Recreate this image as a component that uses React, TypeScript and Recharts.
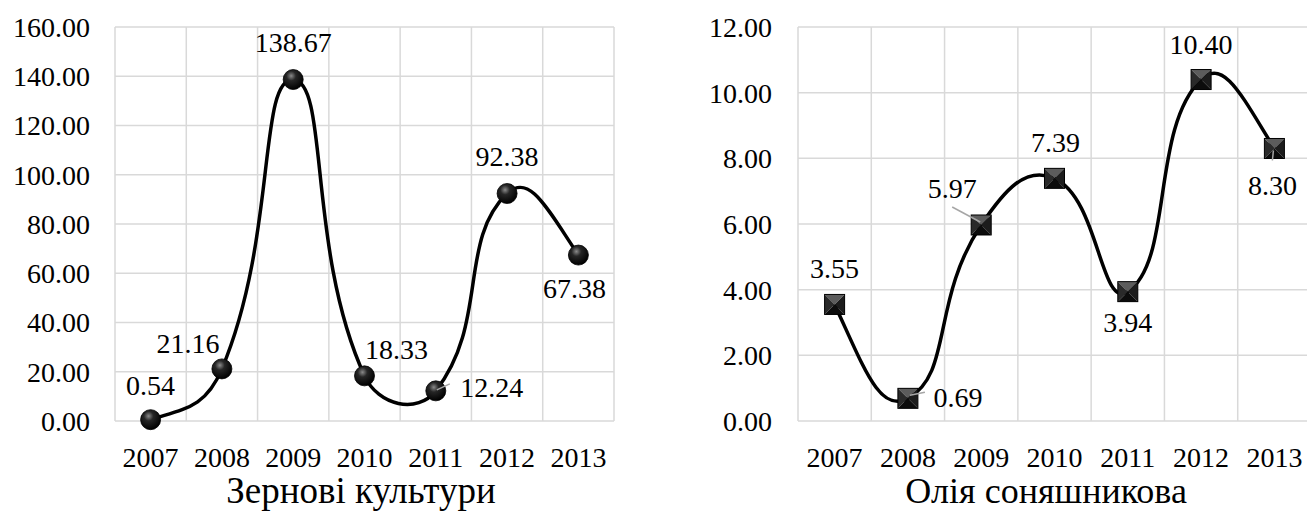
import React from 'react';
import { LineChart, Line, XAxis, YAxis, CartesianGrid, LabelList } from 'recharts';

const years = ['2007', '2008', '2009', '2010', '2011', '2012', '2013'];
const grainValues = [0.54, 21.16, 138.67, 18.33, 12.24, 92.38, 67.38];
const oilValues = [3.55, 0.69, 5.97, 7.39, 3.94, 10.4, 8.3];
const grainTicks = [0, 20, 40, 60, 80, 100, 120, 140, 160];
const oilTicks = [0, 2, 4, 6, 8, 10, 12];
const grainTitle = 'Зернові культури';
const oilTitle = 'Олія соняшникова';

// label offsets from the marker (dx, dy), and optional leader lines
const grainLabelPos = [[0, -34], [-34, -26], [0, -37], [32, -27], [56, -4], [0, -37], [-4, 33]];
const grainLeaders: Record<number, number[]> = { 4: [1, -1, 14, -7] };
const oilLabelPos = [[0, -36], [50, -1], [-29, -37], [1, -36], [0, 31], [0, -35], [-2, 37]];
const oilLeaders: Record<number, number[]> = {
  1: [2, -3, 17, -6],
  2: [-29, -18, -1, -3],
  6: [-1, 2, -2, 12],
};

const FONT = '"Liberation Serif", "Times New Roman", "DejaVu Serif", serif';
const GRID = '#d9d9d9';

const grainData = years.map((year, i) => ({ year, value: grainValues[i] }));
const oilData = years.map((year, i) => ({ year, value: oilValues[i] }));

// Excel-like smoothed line: bezier with chord-weighted tangents
const SMOOTH = 0.5;
function excelSmooth(context: any) {
  let pts: number[][] = [];
  return {
    areaStart() {},
    areaEnd() {},
    lineStart() {
      pts = [];
    },
    point(x: number, y: number) {
      pts.push([+x, +y]);
    },
    lineEnd() {
      const n = pts.length;
      if (!n) return;
      context.moveTo(pts[0][0], pts[0][1]);
      if (n === 1) return;
      if (n === 2) {
        context.lineTo(pts[1][0], pts[1][1]);
        return;
      }
      const dist = (a: number[], b: number[]) => Math.hypot(b[0] - a[0], b[1] - a[1]);
      const before: number[][] = [];
      const after: number[][] = [];
      for (let i = 1; i < n - 1; i++) {
        const p0 = pts[i - 1];
        const p1 = pts[i];
        const p2 = pts[i + 1];
        const d0 = dist(p0, p1);
        const d1 = dist(p1, p2);
        const sum = d0 + d1 || 1;
        const tx = p2[0] - p0[0];
        const ty = p2[1] - p0[1];
        before[i] = [p1[0] - (tx * SMOOTH * d0) / sum, p1[1] - (ty * SMOOTH * d0) / sum];
        after[i] = [p1[0] + (tx * SMOOTH * d1) / sum, p1[1] + (ty * SMOOTH * d1) / sum];
      }
      const a0 = pts[0];
      const a1 = pts[1];
      after[0] = [
        a0[0] + (before[1][0] - a0[0]) * 0.5 + (a1[0] - a0[0]) * 0.1,
        a0[1] + (before[1][1] - a0[1]) * 0.5 + (a1[1] - a0[1]) * 0.1,
      ];
      const z = pts[n - 1];
      const z1 = pts[n - 2];
      before[n - 1] = [
        z[0] + (after[n - 2][0] - z[0]) * 0.5 + (z1[0] - z[0]) * 0.1,
        z[1] + (after[n - 2][1] - z[1]) * 0.5 + (z1[1] - z[1]) * 0.1,
      ];
      for (let i = 0; i < n - 1; i++) {
        context.bezierCurveTo(
          after[i][0], after[i][1],
          before[i + 1][0], before[i + 1][1],
          pts[i + 1][0], pts[i + 1][1]
        );
      }
    },
  };
}

const BallMarker = (props: any) => {
  const { cx, cy, index } = props;
  if (cx == null || cy == null) return null;
  const id = `ball-grad-${index}`;
  return (
    <g key={`ball-${index}`}>
      <defs>
        <radialGradient id={id} cx="40%" cy="32%" r="68%">
          <stop offset="0%" stopColor="#8a8a8a" />
          <stop offset="35%" stopColor="#262626" />
          <stop offset="100%" stopColor="#000" />
        </radialGradient>
      </defs>
      <circle cx={cx} cy={cy} r={10} fill={`url(#${id})`} stroke="#000" strokeWidth={0.8} />
    </g>
  );
};

const SquareMarker = (props: any) => {
  const { cx, cy, index } = props;
  if (cx == null || cy == null) return null;
  const h = 10;
  const l = cx - h;
  const r = cx + h;
  const t = cy - h;
  const b = cy + h;
  return (
    <g key={`sq-${index}`}>
      <polygon points={`${l},${t} ${r},${t} ${cx},${cy}`} fill="#5c5c5c" />
      <polygon points={`${l},${t} ${cx},${cy} ${l},${b}`} fill="#2a2a2a" />
      <polygon points={`${r},${t} ${r},${b} ${cx},${cy}`} fill="#1c1c1c" />
      <polygon points={`${l},${b} ${cx},${cy} ${r},${b}`} fill="#0c0c0c" />
      <rect x={l} y={t} width={2 * h} height={2 * h} fill="none" stroke="#000" strokeWidth={1} />
    </g>
  );
};

const makeLabel = (placement: number[][], leaders: Record<number, number[]>) => (props: any) => {
  const { x, y, value, index } = props;
  const [dx, dy] = placement[index] || [0, -35];
  const leader = leaders[index];
  return (
    <g key={`lbl-${index}`}>
      {leader && (
        <line
          x1={x + leader[0]}
          y1={y + leader[1]}
          x2={x + leader[2]}
          y2={y + leader[3]}
          stroke="#a6a6a6"
          strokeWidth={1.5}
        />
      )}
      <text
        x={x + dx}
        y={y + dy}
        dy="0.35em"
        textAnchor="middle"
        fontSize={28}
        fontFamily={FONT}
        fill="#000"
      >
        {Number(value).toFixed(2)}
      </text>
    </g>
  );
};

const boundaryLines = ({ offset }: any) =>
  Array.from({ length: years.length + 1 }, (_, i) => offset.left + (offset.width * i) / years.length);

const tickStyle = { fill: '#000', fontSize: 28, fontFamily: FONT };

function Panel({ data, ticks, max, yWidth, yMargin, width, right, pad, Marker, placement, leaders }: any) {
  return (
    <LineChart width={width} height={524} data={data} margin={{ top: 27, right, left: 0, bottom: 53 }}>
      <CartesianGrid stroke={GRID} strokeWidth={1.5} verticalCoordinatesGenerator={boundaryLines} />
      <XAxis
        dataKey="year"
        tickLine={false}
        axisLine={false}
        tickSize={0}
        tickMargin={26}
        height={50}
        interval={0}
        padding={{ left: pad, right: pad }}
        tick={tickStyle}
      />
      <YAxis
        domain={[0, max]}
        ticks={ticks}
        interval={0}
        tickFormatter={(v: number) => v.toFixed(2)}
        width={yWidth}
        tickLine={false}
        axisLine={false}
        tickSize={0}
        tickMargin={yMargin}
        tick={tickStyle}
      />
      <Line
        dataKey="value"
        type={excelSmooth as any}
        stroke="#000"
        strokeWidth={3.5}
        dot={(p: any) => <Marker {...p} key={`m-${p.index}`} />}
        activeDot={false}
        isAnimationActive={false}
      >
        <LabelList dataKey="value" content={makeLabel(placement, leaders)} />
      </Line>
    </LineChart>
  );
}

export default function App() {
  return (
    <div
      style={{
        position: 'absolute',
        left: 0,
        top: 0,
        width: 1307,
        height: 524,
        overflow: 'hidden',
        background: '#fff',
      }}
    >
      <div style={{ position: 'absolute', left: 0, top: 0 }}>
        <Panel
          data={grainData}
          ticks={grainTicks}
          max={160}
          yWidth={115}
          yMargin={25}
          width={650}
          right={36}
          pad={35.6}
          Marker={BallMarker}
          placement={grainLabelPos}
          leaders={grainLeaders}
        />
      </div>
      <div style={{ position: 'absolute', left: 680, top: 0 }}>
        <Panel
          data={oilData}
          ticks={oilTicks}
          max={12}
          yWidth={118}
          yMargin={26}
          width={631}
          right={0}
          pad={36.6}
          Marker={SquareMarker}
          placement={oilLabelPos}
          leaders={oilLeaders}
        />
      </div>
      <svg
        width={1307}
        height={524}
        style={{ position: 'absolute', left: 0, top: 0, pointerEvents: 'none' }}
      >
        <text x={361} y={503} textAnchor="middle" fontSize={37} fontFamily={FONT} fill="#000">
          {grainTitle}
        </text>
        <text x={1046} y={503} textAnchor="middle" fontSize={36} fontFamily={FONT} fill="#000">
          {oilTitle}
        </text>
      </svg>
    </div>
  );
}
